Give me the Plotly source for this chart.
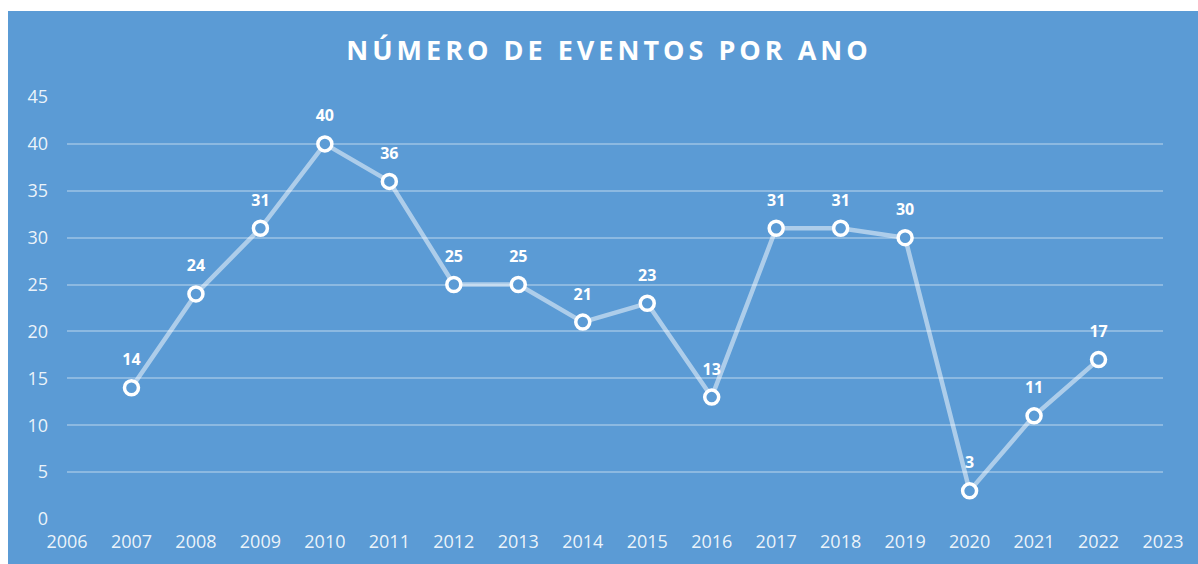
import plotly.graph_objects as go

years = [2007, 2008, 2009, 2010, 2011, 2012, 2013, 2014, 2015, 2016,
         2017, 2018, 2019, 2020, 2021, 2022]
eventos = [14, 24, 31, 40, 36, 25, 25, 21, 23, 13, 31, 31, 30, 3, 11, 17]
x_ticks = list(range(2006, 2024))
y_ticks = list(range(0, 50, 5))
title_text = "NÚMERO DE EVENTOS POR ANO"

BLUE = "#5B9BD5"
FONT = "Open Sans"

W, H = 1198, 564
L, R, T, B = 67, 35, 97, 45
pw, ph = W - L - R, H - T - B

fig = go.Figure()
fig.add_trace(go.Scatter(
    x=years, y=eventos, mode="lines+markers",
    line=dict(color="rgba(255,255,255,0.5)", width=4.5),
    marker=dict(size=14, color=BLUE, line=dict(color="white", width=3.5)),
    cliponaxis=False, showlegend=False, hoverinfo="skip",
))
fig.add_trace(go.Scatter(
    x=years, y=eventos, mode="markers+text",
    marker=dict(size=28, color="rgba(0,0,0,0)"),
    text=[str(v) for v in eventos], textposition="top center",
    textfont=dict(family=FONT, size=16, color="white", weight="bold"),
    cliponaxis=False, showlegend=False,
))

fig.update_layout(
    width=W, height=H,
    margin=dict(l=L, r=R, t=T, b=B, pad=0),
    paper_bgcolor="white", plot_bgcolor="rgba(0,0,0,0)",
    title=dict(text=title_text, x=609 / W, xanchor="center",
               y=1 - 51 / H, yanchor="middle",
               font=dict(family=FONT, size=27, color="white", weight="bold")),
    shapes=[dict(type="rect", xref="paper", yref="paper",
                 x0=(8 - L) / pw, x1=(W - L) / pw,
                 y0=-(B) / ph, y1=(H - B - 11) / ph,
                 fillcolor=BLUE, line=dict(width=0), layer="below")],
    xaxis=dict(range=[2006, 2023], tickvals=x_ticks,
               ticktext=[str(t) for t in x_ticks],
               showgrid=False, zeroline=False, showline=False,
               tickfont=dict(family=FONT, size=18, color="rgba(255,255,255,0.9)"),
               ticks="", ticklabelstandoff=10),
    yaxis=dict(range=[0, 45], tickvals=y_ticks,
               showgrid=True, gridcolor="rgba(255,255,255,0.3)", gridwidth=2,
               zeroline=False, showline=False,
               tickfont=dict(family=FONT, size=18, color="rgba(255,255,255,0.9)"),
               ticks="", ticklabelstandoff=18),
)

post = """
document.body.style.margin = '0';
document.documentElement.style.margin = '0';
var t = document.querySelector('.gtitle');
if (t) { t.setAttribute('letter-spacing', '4px'); }
"""
fig.write_html("out.html", post_script=post, config={"displayModeBar": False})
